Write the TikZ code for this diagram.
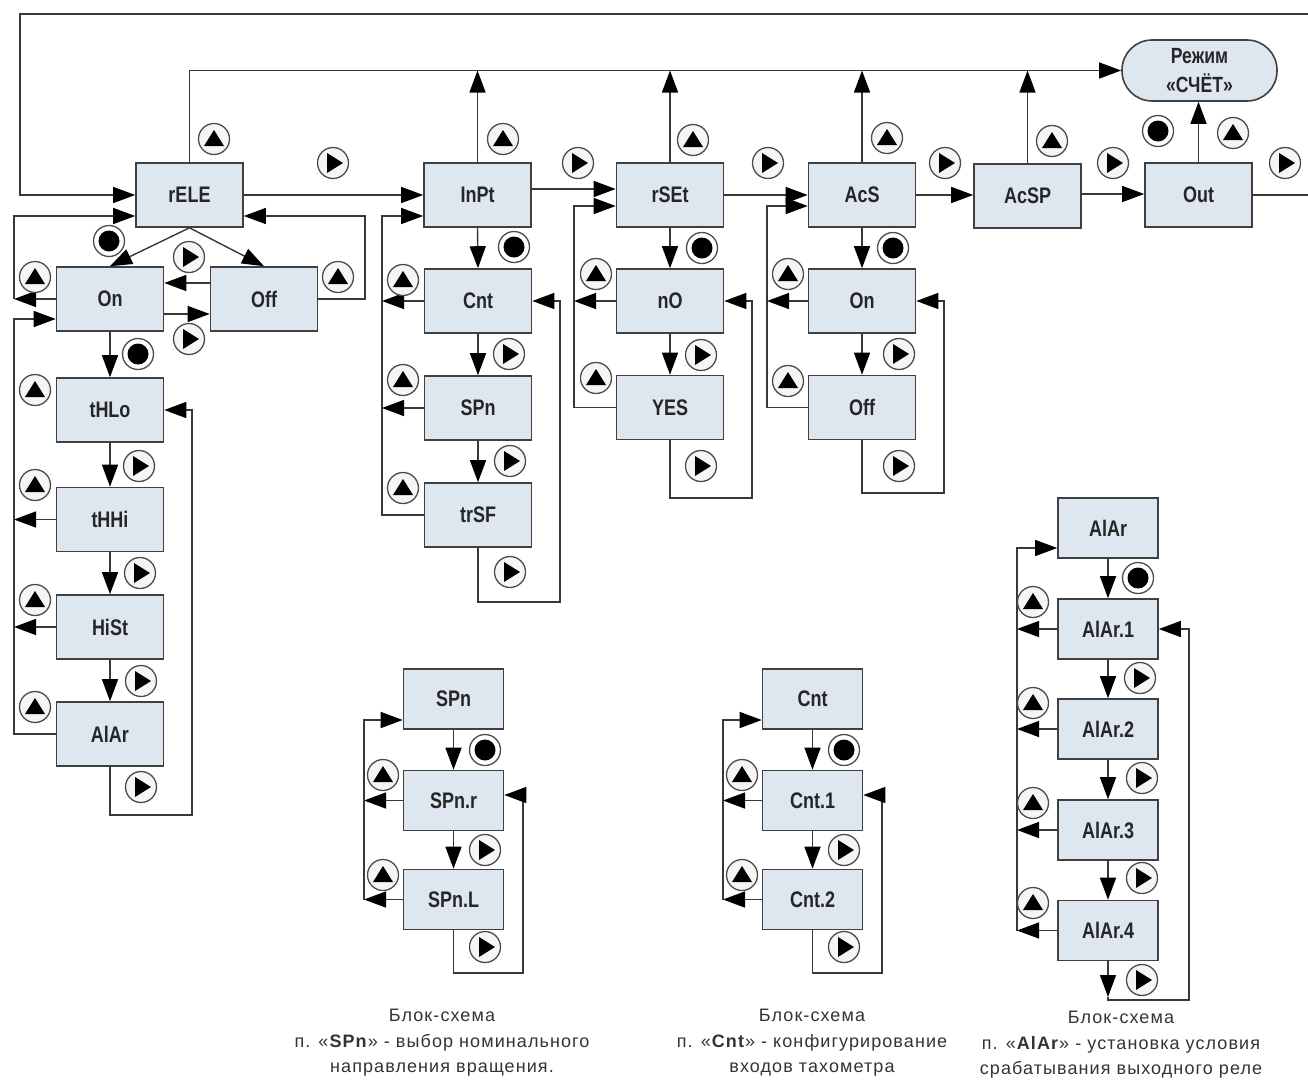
\documentclass[tikz,border=0pt]{standalone}
\usepackage{fontspec}
\setmainfont{Liberation Sans}
\newfontfamily\lblfont[FakeStretch=0.8]{Liberation Sans}
\newfontfamily\capfont[LetterSpace=6]{Liberation Sans}
\usetikzlibrary{arrows.meta,calc}
\definecolor{boxfill}{HTML}{DEE6F0}
\definecolor{boxline}{HTML}{404040}
\definecolor{linec}{HTML}{383838}
\begin{document}
\begin{tikzpicture}[x=1pt,y=-1pt,
  box/.style={draw=boxline, line width=1.6pt, fill=boxfill, minimum width=107pt, minimum height=64pt, inner sep=0pt,
    font=\lblfont\bfseries\fontsize{22.5}{24}\selectfont, text=black!85},
  sbox/.style={box, minimum width=100pt, minimum height=60pt},
  ln/.style={draw=linec, line width=1.4pt},
  arr/.style={ln, -{Triangle[length=22pt,width=16pt,color=black]}},
  btn/.style={circle, draw=black!70, line width=1.3pt, fill=gray!8, minimum size=31pt, inner sep=0pt},
  bup/.style={btn, path picture={\fill[black] ([shift={(0pt,9pt)}]path picture bounding box.center) -- ([shift={(-10pt,-7pt)}]path picture bounding box.center) -- ([shift={(10pt,-7pt)}]path picture bounding box.center) -- cycle;}},
  brt/.style={btn, path picture={\fill[black] ([shift={(10pt,0pt)}]path picture bounding box.center) -- ([shift={(-6pt,10pt)}]path picture bounding box.center) -- ([shift={(-6pt,-10pt)}]path picture bounding box.center) -- cycle;}},
  bok/.style={btn, fill=white, path picture={\fill[black] (path picture bounding box.center) circle (10.5pt);}},
  captxt/.style={align=center, font=\capfont\fontsize{18}{25.5}\selectfont, text=black!80}
]
\useasboundingbox (0,0) rectangle (1308,1082);

% ---------- main row ----------
\node[box] (rELE) at (189.5,195) {rELE};
\node[box] (InPt) at (477.5,195) {InPt};
\node[box] (rSEt) at (670,195) {rSEt};
\node[box] (AcS) at (862,195) {AcS};
\node[box] (AcSP) at (1027.5,196) {AcSP};
\node[box] (Out) at (1198.5,195) {Out};
\node[box, rounded corners=30pt, minimum width=155pt, minimum height=61pt, align=center,
      font=\lblfont\bfseries\fontsize{22}{29}\selectfont] (Rezhim) at (1199.5,70.5) {Режим\\«СЧЁТ»};

% ---------- rELE group ----------
\node[box] (On) at (110,299) {On};
\node[box] (Off) at (264,299) {Off};
\node[box] (tHLo) at (110,410) {tHLo};
\node[box] (tHHi) at (110,519.5) {tHHi};
\node[box] (HiSt) at (110,627) {HiSt};
\node[box] (AlAr) at (110,734) {AlAr};

% ---------- InPt group ----------
\node[box] (Cnt) at (478,301) {Cnt};
\node[box] (SPn) at (478,408) {SPn};
\node[box] (trSF) at (478,515) {trSF};

% ---------- rSEt group ----------
\node[box] (nO) at (670,301) {nO};
\node[box] (YES) at (670,407.5) {YES};

% ---------- AcS group ----------
\node[box] (AOn) at (862,301) {On};
\node[box] (AOff) at (862,407.5) {Off};

% ---------- bottom groups ----------
\node[sbox] (bSPn) at (453.5,699) {SPn};
\node[sbox] (bSPnr) at (453.5,800.5) {SPn.r};
\node[sbox] (bSPnL) at (453.5,899.5) {SPn.L};
\node[sbox] (bCnt) at (812.5,699) {Cnt};
\node[sbox] (bCnt1) at (812.5,800.5) {Cnt.1};
\node[sbox] (bCnt2) at (812.5,899.5) {Cnt.2};
\node[sbox] (bAl) at (1108,528) {AlAr};
\node[sbox] (bAl1) at (1108,629) {AlAr.1};
\node[sbox] (bAl2) at (1108,729) {AlAr.2};
\node[sbox] (bAl3) at (1108,830) {AlAr.3};
\node[sbox] (bAl4) at (1108,930.5) {AlAr.4};

% ---------- free-end coordinates ----------
\coordinate (TR) at (1308,14);
\coordinate (TL) at (20,14);
\coordinate (OR) at (1308,195);
\coordinate (LA) at (14,216);
\coordinate (LB) at (14,299);
\coordinate (LC) at (14,319);
\coordinate (LD) at (14,734);
\coordinate (OffR) at (365,216);
\coordinate (LcR) at (192,815);
\coordinate (IL) at (382,216);
\coordinate (IR) at (560,602);
\coordinate (RL) at (574,206);
\coordinate (RR) at (752,498);
\coordinate (AL) at (767,206);
\coordinate (AR) at (944,493);
\coordinate (SL) at (364,720);
\coordinate (SR) at (523,973);
\coordinate (CL) at (723,720);
\coordinate (CR) at (882,973);
\coordinate (QL) at (1017,548);
\coordinate (QR) at (1189,1000);
\coordinate (QB) at (1108,997);

% ---------- top loops ----------
\draw[arr] (TR) -- (TL) -- (TL |- rELE.west) -- (rELE.west);
\draw[arr] (rELE.north) -- (rELE.north |- Rezhim.west) -- (Rezhim.west);
\draw[arr] (InPt.north) -- (InPt.north |- Rezhim.west);
\draw[arr] (rSEt.north) -- (rSEt.north |- Rezhim.west);
\draw[arr] (AcS.north) -- (AcS.north |- Rezhim.west);
\draw[arr] (AcSP.north) -- (AcSP.north |- Rezhim.west);
\draw[arr] (Out.north) -- (Out.north |- Rezhim.south);
\draw[ln] (Out.east) -- (OR);

% ---------- main row arrows ----------
\draw[arr] (rELE.east) -- (InPt.west);
\draw[arr] (InPt.east |- 0,189) -- (rSEt.west |- 0,189);
\draw[arr] (rSEt.east) -- (AcS.west);
\draw[arr] (AcS.east) -- (AcSP.west |- AcS.east);
\draw[arr] (AcSP.east |- 0,194) -- (Out.west |- 0,194);

% ---------- rELE group ----------
\draw[arr] (rELE.south) -- (On.north);
\draw[arr] (rELE.south) -- (Off.north);
\draw[arr] (Off.west |- 0,283) -- (On.east |- 0,283);
\draw[arr] (On.east |- 0,314) -- (Off.west |- 0,314);
\draw[arr] (Off.east) -- (OffR |- Off.east) -- (OffR) -- (rELE.east |- OffR);
\draw[arr] (On.west) -- (LB);
\draw[arr] (LB) -- (LA) -- (rELE.west |- LA);
\draw[arr] (AlAr.west) -- (LD) -- (LC) -- (On.west |- LC);
\draw[arr] (tHHi.west) -- (LA |- tHHi.west);
\draw[arr] (HiSt.west) -- (LA |- HiSt.west);
\draw[arr] (On.south) -- (tHLo.north);
\draw[arr] (tHLo.south) -- (tHHi.north);
\draw[arr] (tHHi.south) -- (HiSt.north);
\draw[arr] (HiSt.south) -- (AlAr.north);
\draw[arr] (AlAr.south) -- (AlAr.south |- LcR) -- (LcR) -- (LcR |- tHLo.east) -- (tHLo.east);

% ---------- InPt group ----------
\draw[arr] (InPt.south) -- (Cnt.north);
\draw[arr] (Cnt.south) -- (SPn.north);
\draw[arr] (SPn.south) -- (trSF.north);
\draw[arr] (trSF.west) -- (IL |- trSF.west) -- (IL) -- (InPt.west |- IL);
\draw[arr] (Cnt.west) -- (IL |- Cnt.west);
\draw[arr] (SPn.west) -- (IL |- SPn.west);
\draw[arr] (trSF.south) -- (trSF.south |- IR) -- (IR) -- (IR |- Cnt.east) -- (Cnt.east);

% ---------- rSEt group ----------
\draw[arr] (rSEt.south) -- (nO.north);
\draw[arr] (nO.south) -- (YES.north);
\draw[arr] (YES.west) -- (RL |- YES.west) -- (RL) -- (rSEt.west |- RL);
\draw[arr] (nO.west) -- (RL |- nO.west);
\draw[arr] (YES.south) -- (YES.south |- RR) -- (RR) -- (RR |- nO.east) -- (nO.east);

% ---------- AcS group ----------
\draw[arr] (AcS.south) -- (AOn.north);
\draw[arr] (AOn.south) -- (AOff.north);
\draw[arr] (AOff.west) -- (AL |- AOff.west) -- (AL) -- (AcS.west |- AL);
\draw[arr] (AOn.west) -- (AL |- AOn.west);
\draw[arr] (AOff.south) -- (AOff.south |- AR) -- (AR) -- (AR |- AOn.east) -- (AOn.east);

% ---------- SPn block ----------
\draw[arr] (bSPn.south) -- (bSPnr.north);
\draw[arr] (bSPnr.south) -- (bSPnL.north);
\draw[arr] (bSPnr.west) -- (SL |- bSPnr.west);
\draw[arr] (bSPnL.west) -- (SL |- bSPnL.west);
\draw[arr] (SL |- bSPnL.west) -- (SL) -- (bSPn.west |- SL);
\draw[arr] (bSPnL.south) -- (bSPnL.south |- SR) -- (SR) -- (SR |- 0,795) -- (bSPnr.east |- 0,795);

% ---------- Cnt block ----------
\draw[arr] (bCnt.south) -- (bCnt1.north);
\draw[arr] (bCnt1.south) -- (bCnt2.north);
\draw[arr] (bCnt1.west) -- (CL |- bCnt1.west);
\draw[arr] (bCnt2.west) -- (CL |- bCnt2.west);
\draw[arr] (CL |- bCnt2.west) -- (CL) -- (bCnt.west |- CL);
\draw[arr] (bCnt2.south) -- (bCnt2.south |- CR) -- (CR) -- (CR |- 0,795) -- (bCnt1.east |- 0,795);

% ---------- AlAr block ----------
\draw[arr] (bAl.south) -- (bAl1.north);
\draw[arr] (bAl1.south) -- (bAl2.north);
\draw[arr] (bAl2.south) -- (bAl3.north);
\draw[arr] (bAl3.south) -- (bAl4.north);
\draw[arr] (bAl1.west) -- (QL |- bAl1.west);
\draw[arr] (bAl2.west) -- (QL |- bAl2.west);
\draw[arr] (bAl3.west) -- (QL |- bAl3.west);
\draw[arr] (bAl4.west) -- (QL |- bAl4.west);
\draw[arr] (QL |- bAl4.west) -- (QL) -- (bAl.west |- QL);
\draw[arr] (bAl4.south) -- (QB);
\draw[arr] (QB) -- (QB |- QR) -- (QR) -- (QR |- bAl1.east) -- (bAl1.east);

% ---------- buttons ----------
\foreach \x/\y [count=\i] in {214/139, 503/139, 693/140, 887/138, 1052/141, 1233/133,
  35/277, 338/277, 35/390, 35/485, 35/600, 35/707,
  403/280, 403/380, 403/488, 596/274, 596/378, 788/274, 788/381,
  383/775, 383/875, 742/775, 742/875,
  1033/602, 1033/703, 1033/803, 1033/903}
  \node[bup] (up\i) at (\x,\y) {};
\foreach \x/\y [count=\i] in {333/163, 578/163, 768/163, 945/163, 1113/163, 1285/163,
  189/257, 189/339, 139/466, 140/573, 141/681, 141/787,
  509/354, 510/461, 510/572, 701/355, 701/466, 899/354, 899/466,
  485/850, 485/947, 844/850, 844/947,
  1140/678, 1142/778, 1142/878, 1142/980}
  \node[brt] (rt\i) at (\x,\y) {};
\foreach \x/\y [count=\i] in {1158/131, 109/241, 138/354, 514/247, 702/248, 893/248,
  485/750, 844/750, 1138/578}
  \node[bok] (ok\i) at (\x,\y) {};

% ---------- captions ----------
\node[captxt] (capSPn) at (442,1043) {Блок-схема\\п. «\textbf{SPn}» - выбор номинального\\направления вращения.};
\node[captxt] (capCnt) at (812,1043) {Блок-схема\\п. «\textbf{Cnt}» - конфигурирование\\входов тахометра};
\node[captxt] (capAl) at (1121,1045) {Блок-схема\\п. «\textbf{AlAr}» - установка условия\\срабатывания выходного реле};
\end{tikzpicture}
\end{document}
